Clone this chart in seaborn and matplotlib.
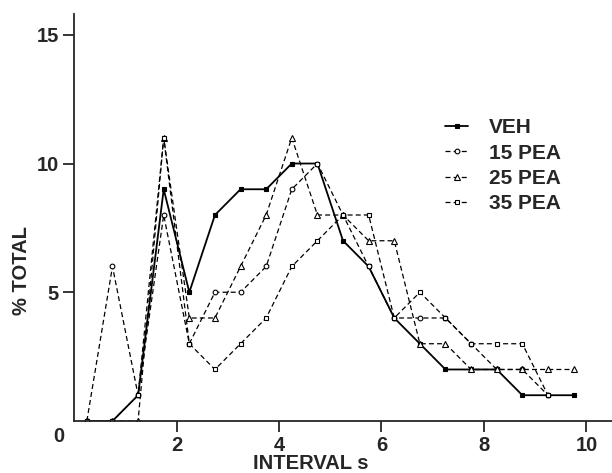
import numpy as np
import pandas as pd
import matplotlib
matplotlib.use('Agg')
import matplotlib.pyplot as plt
import seaborn as sns

# interval bins (s) and % of total for each treatment
interval = [0.25, 0.75, 1.25, 1.75, 2.25, 2.75, 3.25, 3.75, 4.25, 4.75,
            5.25, 5.75, 6.25, 6.75, 7.25, 7.75, 8.25, 8.75, 9.25, 9.75]
veh    = [0, 0, 1, 9, 5, 8, 9, 9, 10, 10, 7, 6, 4, 3, 2, 2, 2, 1, 1, 1]
pea15  = [0, 6, 1, 8, 3, 5, 5, 6, 9, 10, 8, 6, 4, 4, 4, 3, 2, 2, 1]
pea25  = [0, 0, 0, 11, 4, 4, 6, 8, 11, 8, 8, 7, 7, 3, 3, 2, 2, 2, 2, 2]
pea35  = [0, 0, 1, 11, 3, 2, 3, 4, 6, 7, 8, 8, 4, 5, 4, 3, 3, 3, 1]

labels = ['VEH', '15 PEA', '25 PEA', '35 PEA']
series = [veh, pea15, pea25, pea35]
markers = ['s', 'o', '^', 's']
facecols = ['black', 'white', 'white', 'white']
styles = ['-', (0, (4, 2.5)), (0, (4, 2.5)), (0, (4, 2.5))]

sns.set_style('ticks')
plt.rcParams['font.family'] = ['Liberation Sans', 'DejaVu Sans']
plt.rcParams['font.weight'] = 'bold'

fig = plt.figure(figsize=(6.12, 4.73), dpi=100)
ax = fig.add_axes([0.121, 0.11, 0.879, 0.86])

for lab, vals, mk, fc, ls in zip(labels, series, markers, facecols, styles):
    df = pd.DataFrame({'interval': interval[:len(vals)], 'pct': vals})
    sns.lineplot(data=df, x='interval', y='pct', ax=ax, color='black',
                 marker=mk, markersize=3.4 if mk != '^' else 4,
                 markerfacecolor=fc, markeredgecolor='black',
                 markeredgewidth=0.8, linestyle=ls,
                 linewidth=1.3 if lab == 'VEH' else 0.9, label=lab)

ax.set_xlim(0, 10.5)
ax.set_ylim(0, 15.8)
ax.set_xticks([2, 4, 6, 8, 10])
ax.set_yticks([5, 10, 15])
ax.tick_params(axis='both', direction='out', length=8, width=1.3,
               labelsize=14.5, pad=3)
for t in ax.get_xticklabels() + ax.get_yticklabels():
    t.set_fontweight('bold')
ax.annotate('0', xy=(0, 0), xytext=(-11, -11), textcoords='offset points',
            ha='center', va='center', fontsize=14.5, fontweight='bold')

sns.despine(ax=ax)
for sp in ['left', 'bottom']:
    ax.spines[sp].set_linewidth(1.3)

ax.set_xlabel('INTERVAL s', fontsize=14.5, fontweight='bold', labelpad=0)
ax.set_ylabel('% TOTAL', fontsize=14.5, fontweight='bold', labelpad=12)
ax.xaxis.set_label_coords(0.44, -0.08)
ax.yaxis.set_label_coords(-0.08, 0.37)

leg = ax.legend(loc='upper left', bbox_to_anchor=(0.655, 0.79), frameon=False,
                handlelength=1.1, handletextpad=1.0, labelspacing=0.3,
                prop={'size': 15, 'weight': 'bold'})

fig.savefig('out.png', dpi=100)
